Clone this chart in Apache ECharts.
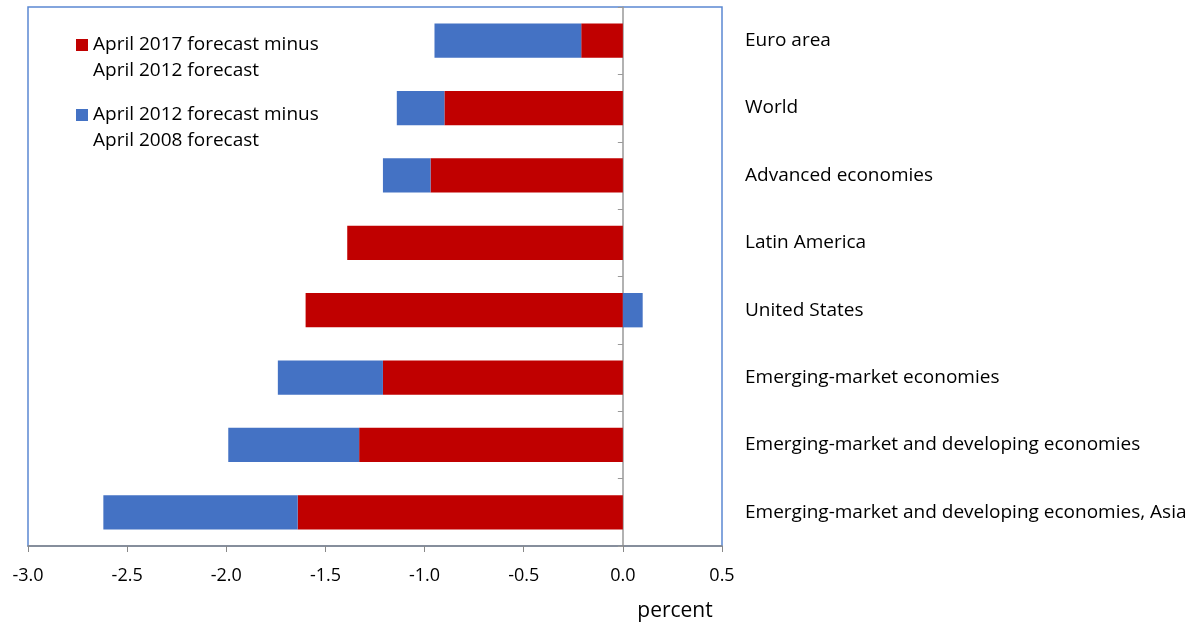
<!DOCTYPE html>
<html>
<head>
<meta charset="utf-8">
<script src="https://cdn.jsdelivr.net/npm/echarts@6/dist/echarts.min.js"></script>
<style>html,body{margin:0;padding:0;background:#fff}#c{width:1193px;height:623px}</style>
</head>
<body>
<div id="c"></div>
<script>
var categories = ["Euro area", "World", "Advanced economies", "Latin America", "United States",
  "Emerging-market economies", "Emerging-market and developing economies",
  "Emerging-market and developing economies, Asia"];
var series2017minus2012 = [-0.21, -0.90, -0.97, -1.39, -1.60, -1.21, -1.33, -1.64];
var series2012minus2008 = [-0.74, -0.24, -0.24, 0.00, 0.10, -0.53, -0.66, -0.98];
var xTicks = {min: -3.0, max: 0.5, interval: 0.5};
var legendNames = ["April 2017 forecast minus\nApril 2012 forecast", "April 2012 forecast minus\nApril 2008 forecast"];

var FONT = 'Open Sans';
var chart = echarts.init(document.getElementById('c'), null, {renderer: 'canvas'});
chart.setOption({
  animation: false,
  textStyle: {fontFamily: FONT},
  grid: {left: 28, right: 471, top: 7, bottom: 77, show: true, borderColor: '#5B88D2', borderWidth: 1.5, containLabel: false},
  legend: {
    left: 76, top: 6, padding: 0, orient: 'vertical', itemGap: -8, itemWidth: 12, itemHeight: 12, icon: 'rect',
    formatter: function (n) { return '\n' + n; },
    textStyle: {fontFamily: FONT, fontSize: 19, color: '#000', lineHeight: 26},
    data: legendNames
  },
  xAxis: {
    type: 'value', min: xTicks.min, max: xTicks.max, interval: xTicks.interval,
    splitLine: {show: false},
    axisLine: {show: true, onZero: false, lineStyle: {color: '#888', width: 1.5}},
    axisTick: {show: true, length: 6, lineStyle: {color: '#888'}},
    axisLabel: {fontFamily: FONT, fontSize: 18, color: '#000', margin: 21, formatter: function (v) { return v.toFixed(1); }}
  },
  yAxis: [{
    type: 'category', data: categories, inverse: true, position: 'left',
    axisLine: {show: true, onZero: true, lineStyle: {color: '#999', width: 1.5}},
    axisTick: {show: true, length: 5, lineStyle: {color: '#999'}},
    axisLabel: {show: false}
  }, {
    type: 'category', data: categories, inverse: true, position: 'right',
    axisLine: {show: false}, axisTick: {show: false},
    axisLabel: {show: true, fontFamily: FONT, fontSize: 19, color: '#000', margin: 23, align: 'left', padding: [4, 0, 0, 0]}
  }],
  series: [{
    name: legendNames[0], type: 'bar', stack: 'total', data: series2017minus2012,
    barWidth: '51%', itemStyle: {color: '#C00000'}
  }, {
    name: legendNames[1], type: 'bar', stack: 'total', data: series2012minus2008,
    barWidth: '51%', itemStyle: {color: '#4472C4'}
  }],
  graphic: [{
    type: 'text', x: 675, y: 611,
    style: {text: 'percent', fontFamily: FONT, fontSize: 21, fill: '#000', align: 'center', verticalAlign: 'middle'}
  }]
});
</script>
</body>
</html>
